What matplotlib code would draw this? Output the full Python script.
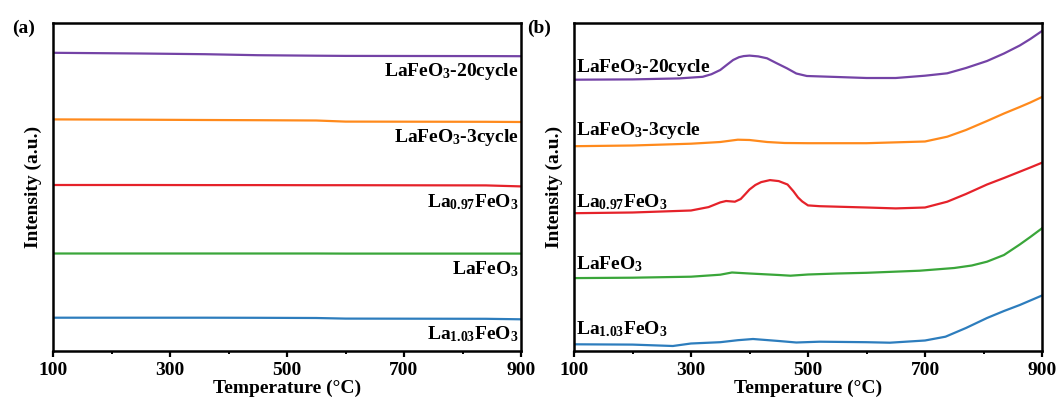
import matplotlib
matplotlib.use("Agg")
import matplotlib.pyplot as plt
from matplotlib.ticker import MultipleLocator

# ---------------- data ----------------
series_labels = [r"LaFeO$_3$-20cycle", r"LaFeO$_3$-3cycle", r"La$_{0.97}$FeO$_3$",
                 r"LaFeO$_3$", r"La$_{1.03}$FeO$_3$"]
colors = ["#7443a6", "#ff8a1c", "#e5222a", "#3aa63a", "#2d7dbd"]

# panel (a)
T_a = [100, 250, 360, 450, 550, 600, 840, 900]
a_20cycle = [298.2, 297.5, 296.8, 295.8, 295.3, 295.1, 294.9, 294.8]
a_3cycle = [231.6, 231.3, 231.0, 230.8, 230.5, 229.4, 229.2, 229.0]
a_La097 = [166.0, 166.0, 165.9, 165.9, 165.8, 165.8, 165.6, 164.6]
a_LaFeO3 = [97.5, 97.5, 97.5, 97.5, 97.5, 97.4, 97.4, 97.4]
a_La103 = [33.3, 33.3, 33.3, 33.2, 33.0, 32.4, 32.2, 31.7]

# panel (b)
T_b20 = [100, 200, 280, 320, 335, 350, 362, 372, 382, 390, 400, 415, 430, 445, 464, 480, 498, 550, 600, 650, 700, 738, 770, 806, 835, 862, 880, 900]
b_20cycle = [271.3, 271.6, 272.6, 274.2, 276.8, 281.0, 286.5, 291.0, 293.8, 294.9, 295.4, 294.6, 292.7, 288.2, 282.7, 277.5, 275.0, 274.0, 273.0, 273.0, 275.3, 277.7, 283.0, 290.0, 297.5, 305.5, 312.0, 320.0]

T_b3 = [100, 200, 300, 350, 380, 400, 430, 460, 500, 600, 700, 738, 770, 806, 835, 862, 880, 900]
b_3cycle = [204.8, 205.5, 207.3, 209.0, 211.3, 211.0, 209.0, 208.0, 207.8, 207.8, 209.5, 214.3, 221.0, 230.0, 237.5, 244.0, 248.5, 254.0]

T_b097 = [100, 200, 300, 330, 350, 360, 375, 385, 393, 400, 410, 420, 435, 450, 465, 475, 483, 490, 500, 520, 600, 650, 700, 738, 770, 806, 835, 862, 880, 900]
b_La097 = [137.8, 138.5, 140.5, 143.9, 148.6, 150.0, 149.3, 152.0, 157.0, 161.5, 166.0, 168.9, 170.9, 169.9, 166.5, 159.8, 153.5, 149.6, 145.6, 144.8, 143.5, 142.6, 143.5, 149.3, 157.0, 166.5, 173.0, 179.3, 183.5, 188.3]

T_b100 = [100, 200, 300, 350, 370, 400, 450, 470, 500, 550, 600, 691, 750, 780, 806, 835, 862, 880, 900]
b_LaFeO3 = [72.9, 73.3, 74.3, 76.3, 78.5, 77.5, 76.0, 75.3, 76.5, 77.5, 78.2, 80.3, 83.0, 85.5, 89.3, 96.0, 106.5, 114.0, 122.7]

T_b103 = [100, 200, 269, 300, 350, 380, 406, 450, 480, 520, 600, 640, 700, 735, 770, 806, 835, 862, 880, 900]
b_La103 = [6.7, 6.4, 5.0, 7.5, 8.8, 10.8, 12.0, 10.0, 8.5, 9.3, 8.8, 8.3, 10.5, 14.3, 23.0, 33.0, 40.0, 46.0, 50.5, 55.5]

xticks = [100, 300, 500, 700, 900]

# ---------------- style ----------------
plt.rcParams["font.family"] = ["Liberation Serif", "DejaVu Serif"]
plt.rcParams["font.weight"] = "bold"
plt.rcParams["mathtext.fontset"] = "custom"
plt.rcParams["mathtext.rm"] = "Liberation Serif:bold"
plt.rcParams["mathtext.it"] = "Liberation Serif:bold"
plt.rcParams["mathtext.bf"] = "Liberation Serif:bold"
plt.rcParams["mathtext.default"] = "rm"

fig = plt.figure(figsize=(10.57, 3.98), dpi=100)
ax_a = fig.add_axes([53 / 1057, 47 / 398, 468 / 1057, 328 / 398])
ax_b = fig.add_axes([574 / 1057, 47 / 398, 468 / 1057, 328 / 398])

a_data = [a_20cycle, a_3cycle, a_La097, a_LaFeO3, a_La103]
b_data = [(T_b20, b_20cycle), (T_b3, b_3cycle), (T_b097, b_La097),
          (T_b100, b_LaFeO3), (T_b103, b_La103)]

for ys, c in zip(a_data, colors):
    ax_a.plot(T_a, ys, color=c, lw=1.6, solid_joinstyle="round")
for (ts, ys), c in zip(b_data, colors):
    ax_b.plot(ts, ys, color=c, lw=1.6, solid_joinstyle="round")

# labels
a_label_y = [275, 209, 144, 77, 11.5]
b_label_y = [279, 216, 144, 82, 17]
for lab, y in zip(series_labels, a_label_y):
    ax_a.text(896, y, lab, ha="right", va="baseline", fontsize=14, fontweight="bold")
for lab, y in zip(series_labels, b_label_y):
    ax_b.text(103, y, lab, ha="left", va="baseline", fontsize=14, fontweight="bold")

for ax in [ax_a, ax_b]:
    ax.set_xlim(100, 900)
    ax.set_ylim(0, 328)
    ax.set_xticks(xticks)
    ax.xaxis.set_minor_locator(MultipleLocator(100))
    ax.set_yticks([])
    ax.tick_params(axis="x", which="major", direction="out", length=4, width=1.6,
                   labelsize=14, pad=4, top=False)
    ax.tick_params(axis="x", which="minor", direction="out", length=2.2, width=1.4, top=False)
    for sp in ax.spines.values():
        sp.set_linewidth(1.8)
    ax.set_xlabel("Temperature (°C)", fontsize=14, fontweight="bold", labelpad=0.5)
    ax.set_ylabel("Intensity (a.u.)", fontsize=14, fontweight="bold", labelpad=8)
    for lbl in ax.get_xticklabels():
        lbl.set_fontweight("bold")

fig.text(12 / 1057, 1 - 33 / 398, "(a)", fontsize=14, fontweight="bold", ha="left", va="baseline")
fig.text(527 / 1057, 1 - 33 / 398, "(b)", fontsize=14, fontweight="bold", ha="left", va="baseline")

fig.savefig("out.png", dpi=100)
